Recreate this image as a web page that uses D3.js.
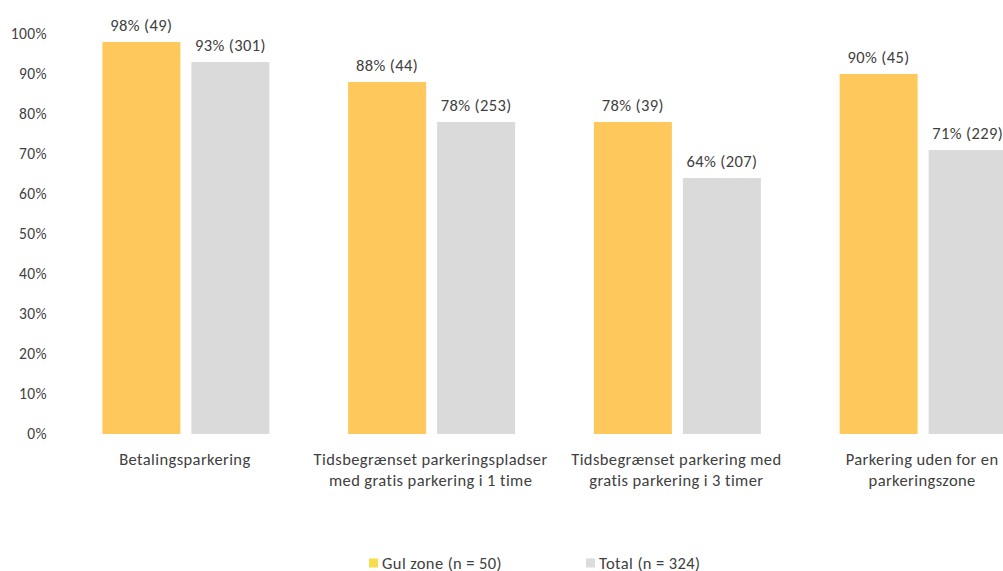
<!DOCTYPE html>
<html>
<head>
<meta charset="utf-8">
<script src="https://cdn.jsdelivr.net/npm/d3@7"></script>
<style>
  html, body { margin: 0; padding: 0; background: #fff; }
  svg { display: block; }
  text { font-family: Carlito, Calibri, Lato, "Open Sans", sans-serif; fill: #404040; letter-spacing: 0.4px; }
</style>
</head>
<body>
<svg id="chart" width="1003" height="571"></svg>
<script>
// Categories (two-line labels) and the two series
const categories = [
  ["Betalingsparkering"],
  ["Tidsbegrænset parkeringspladser", "med gratis parkering i 1 time"],
  ["Tidsbegrænset parkering med", "gratis parkering i 3 timer"],
  ["Parkering uden for en", "parkeringszone"]
];
const seriesNames = ["Gul zone (n = 50)", "Total (n = 324)"];
const gulPct   = [98, 88, 78, 90];
const gulN     = [49, 44, 39, 45];
const totalPct = [93, 78, 64, 71];
const totalN   = [301, 253, 207, 229];
const yTicks   = [0, 10, 20, 30, 40, 50, 60, 70, 80, 90, 100];

const colors = ["#FFC85C", "#DADADA"];
const legendColors = ["#F7DC4E", "#DCDCDC"];

const svg = d3.select("#chart");
const plotTop = 34, plotBottom = 434;

const y = d3.scaleLinear().domain([0, 100]).range([plotBottom, plotTop]);
const x0 = d3.scaleBand().domain(d3.range(categories.length)).range([63, 1046]).padding(0);
const x1 = d3.scaleBand().domain([0, 1])
  .range([(x0.step() - 167) / 2, (x0.step() + 167) / 2])
  .paddingInner(0.1236).paddingOuter(0);

// Y axis labels only (no line, no gridlines)
const yAxis = d3.axisLeft(y).tickValues(yTicks).tickFormat(d => d + "%").tickSize(0).tickPadding(0);
const gy = svg.append("g").attr("transform", "translate(47,0)").call(yAxis);
gy.select(".domain").remove();
gy.selectAll("text").style("font-size", "15.5px").attr("fill", "#404040")
  .style("font-family", "Carlito, Calibri, Lato, 'Open Sans', sans-serif");

const rows = categories.map((c, i) => ({
  i,
  vals: [
    { s: 0, pct: gulPct[i], n: gulN[i] },
    { s: 1, pct: totalPct[i], n: totalN[i] }
  ]
}));

const groups = svg.selectAll("g.grp").data(rows).enter().append("g")
  .attr("class", "grp")
  .attr("transform", d => `translate(${x0(d.i)},0)`);

groups.selectAll("rect").data(d => d.vals).enter().append("rect")
  .attr("x", d => x1(d.s))
  .attr("width", x1.bandwidth())
  .attr("y", d => y(d.pct))
  .attr("height", d => y(0) - y(d.pct))
  .attr("fill", d => colors[d.s]);

groups.selectAll("text.val").data(d => d.vals).enter().append("text")
  .attr("class", "val")
  .attr("x", d => x1(d.s) + x1.bandwidth() / 2)
  .attr("y", d => y(d.pct) - 11)
  .attr("text-anchor", "middle")
  .style("font-size", "16.5px")
  .text(d => `${d.pct}% (${d.n})`);

// Category labels
const catLabels = svg.selectAll("text.cat").data(categories).enter().append("text")
  .attr("class", "cat")
  .attr("x", (d, i) => x0(i) + x0.step() / 2 - 1)
  .attr("y", 465)
  .attr("text-anchor", "middle")
  .style("font-size", "16.5px");
catLabels.selectAll("tspan").data(d => d).enter().append("tspan")
  .attr("x", function () { return d3.select(this.parentNode).attr("x"); })
  .attr("dy", (d, j) => j === 0 ? 0 : 20.5)
  .text(d => d);

// Legend
const legendX = [369, 586];
const lg = svg.selectAll("g.leg").data(seriesNames).enter().append("g")
  .attr("class", "leg")
  .attr("transform", (d, i) => `translate(${legendX[i]},558.5)`);
lg.append("rect").attr("width", 9).attr("height", 9).attr("y", 0)
  .attr("fill", (d, i) => legendColors[i]);
lg.append("text").attr("x", 13).attr("y", 10).style("font-size", "16.5px").text(d => d);
</script>
</body>
</html>
